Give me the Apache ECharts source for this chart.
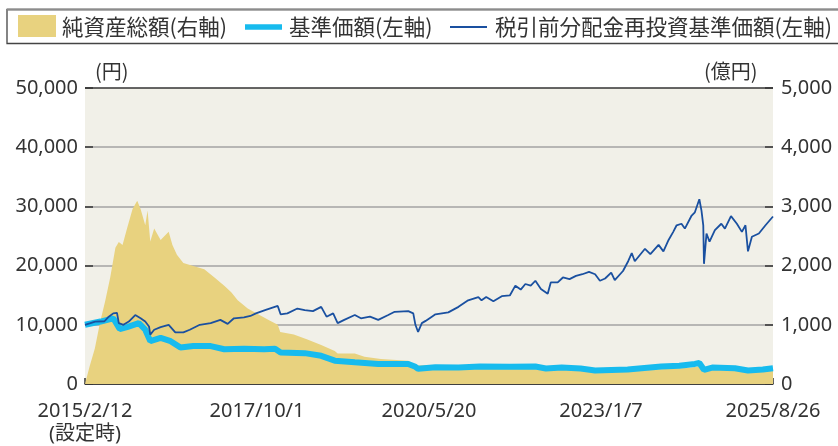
<!DOCTYPE html>
<html>
<head>
<meta charset="utf-8">
<script src="https://cdn.jsdelivr.net/npm/echarts@6/dist/echarts.min.js"></script>
<style>
  html, body { margin: 0; padding: 0; background: #fff; }
  #chart { width: 838px; height: 446px; }
</style>
</head>
<body>
<div id="chart"></div>
<script>
// 純資産総額（億円・右軸）
const assetDates = [
  "2015-02-12", "2015-03-10", "2015-04-08", "2015-05-08", "2015-06-05", "2015-07-03", "2015-08-01",
  "2015-08-20", "2015-09-10", "2015-10-05", "2015-11-05", "2015-12-01", "2015-12-20", "2016-01-15",
  "2016-01-28", "2016-02-12", "2016-03-05", "2016-04-10", "2016-05-25", "2016-06-15", "2016-07-10",
  "2016-08-15", "2016-10-10", "2016-12-10", "2017-02-05", "2017-04-01", "2017-05-10", "2017-06-15",
  "2017-08-10", "2017-10-05", "2017-12-05", "2018-01-25", "2018-02-08", "2018-04-25", "2018-07-10",
  "2018-09-25", "2018-12-10", "2018-12-26", "2019-04-01", "2019-05-25", "2019-08-25", "2020-01-25",
  "2020-03-05", "2020-06-25", "2020-11-10", "2021-06-20", "2022-02-05", "2022-07-25", "2022-12-05",
  "2023-06-20", "2023-12-01", "2024-05-20", "2024-07-10", "2024-08-05", "2024-10-05", "2025-02-25",
  "2025-04-08", "2025-06-20", "2025-08-26"
];
const assetValues = [
  0, 300, 600, 1050, 1400, 1800, 2300,
  2400, 2350, 2625, 2955, 3094, 2955, 2681,
  2929, 2405, 2625, 2433, 2570, 2350, 2185,
  2046, 1992, 1937, 1799, 1661, 1550, 1413,
  1276, 1182, 1083, 1000, 879, 835, 752,
  658, 559, 516, 516, 460, 421, 394,
  311, 320, 265, 260, 250, 245, 205,
  215, 250, 275, 300, 230, 250, 245,
  210, 230, 245
];

// 基準価額（円・左軸）
const priceDates = [
  "2015-02-12", "2015-05-10", "2015-07-20", "2015-07-28", "2015-08-25", "2015-10-05", "2015-12-10",
  "2016-01-15", "2016-02-12", "2016-04-10", "2016-06-05", "2016-07-30", "2016-10-10", "2017-01-15",
  "2017-04-01", "2017-07-20", "2017-11-10", "2018-01-10", "2018-02-10", "2018-06-25", "2018-09-25",
  "2018-12-10", "2019-04-01", "2019-08-10", "2020-01-25", "2020-03-05", "2020-03-20", "2020-06-25",
  "2020-11-01", "2021-03-01", "2021-08-15", "2022-01-05", "2022-03-05", "2022-06-01", "2022-09-15",
  "2022-12-05", "2023-06-05", "2023-12-10", "2024-03-20", "2024-06-15", "2024-07-10", "2024-08-05",
  "2024-09-20", "2025-01-25", "2025-04-08", "2025-06-30", "2025-08-26"
];
const priceValues = [
  10000, 10550, 11100, 11200, 9290, 9620, 10280,
  9170, 7240, 7800, 7240, 6150, 6410, 6410,
  5870, 5950, 5870, 5950, 5320, 5210, 4760,
  3940, 3670, 3390, 3390, 2900, 2560, 2840,
  2800, 2950, 2900, 2950, 2620, 2780, 2620,
  2290, 2450, 2950, 3100, 3390, 3550, 2400,
  2780, 2670, 2290, 2450, 2670
];

// 税引前分配金再投資基準価額（円・左軸）
const reinvestDates = [
  "2015-02-12", "2015-03-10", "2015-04-10", "2015-06-01", "2015-06-25", "2015-07-20", "2015-08-10",
  "2015-08-20", "2015-09-15", "2015-10-15", "2015-11-20", "2015-12-20", "2016-01-15", "2016-02-05",
  "2016-02-12", "2016-03-05", "2016-04-10", "2016-05-25", "2016-07-01", "2016-08-15", "2016-09-20",
  "2016-11-15", "2017-01-15", "2017-03-10", "2017-04-20", "2017-05-25", "2017-07-20", "2017-08-25",
  "2017-09-25", "2017-11-15", "2018-01-25", "2018-02-10", "2018-03-20", "2018-05-15", "2018-06-25",
  "2018-08-10", "2018-09-25", "2018-10-25", "2018-12-01", "2018-12-26", "2019-02-01", "2019-04-01",
  "2019-05-05", "2019-06-25", "2019-08-10", "2019-10-05", "2019-11-10", "2020-01-25", "2020-02-22",
  "2020-03-05", "2020-03-20", "2020-04-10", "2020-05-01", "2020-06-05", "2020-06-25", "2020-09-05",
  "2020-11-01", "2020-12-25", "2021-02-20", "2021-03-10", "2021-04-05", "2021-05-15", "2021-07-01",
  "2021-08-15", "2021-09-15", "2021-10-15", "2021-11-10", "2021-12-10", "2022-01-05", "2022-02-05",
  "2022-03-15", "2022-04-01", "2022-05-10", "2022-06-08", "2022-07-15", "2022-08-20", "2022-09-25",
  "2022-11-01", "2022-12-05", "2023-01-01", "2023-01-10", "2023-01-30", "2023-03-05", "2023-03-25",
  "2023-05-10", "2023-06-08", "2023-06-28", "2023-07-15", "2023-09-10", "2023-10-10", "2023-11-25",
  "2023-12-22", "2024-01-20", "2024-02-15", "2024-03-05", "2024-04-01", "2024-04-20", "2024-05-28",
  "2024-06-15", "2024-07-10", "2024-07-22", "2024-08-01", "2024-08-05", "2024-08-19", "2024-09-05",
  "2024-10-05", "2024-11-10", "2024-11-30", "2025-01-03", "2025-02-05", "2025-03-05", "2025-03-25",
  "2025-04-08", "2025-04-30", "2025-06-08", "2025-07-15", "2025-08-26"
];
const reinvestValues = [
  10000, 10250, 10550, 10600, 11370, 11930, 12000,
  10280, 10000, 10550, 11650, 11100, 10550, 9720,
  8350, 9170, 9620, 10000, 8730, 8730, 9170,
  10000, 10280, 10830, 10150, 11100, 11270, 11490,
  11930, 12480, 13190, 11770, 11930, 12750, 12480,
  12310, 13030, 11370, 11930, 10280, 10830, 11650,
  11100, 11370, 10830, 11650, 12200, 12310, 11930,
  10000, 8790, 10280, 10660, 11370, 11770, 12100,
  13030, 14130, 14680, 14130, 14680, 13970, 14840,
  14960, 16610, 15950, 16890, 16610, 17440, 16060,
  15240, 17160, 17160, 17990, 17720, 18260, 18540,
  18930, 18540, 17440, 17320, 17820, 18810, 17550,
  19090, 20740, 22120, 20740, 22840, 21950, 23500,
  22400, 24330, 25700, 26810, 27070, 26250, 28460,
  29010, 31210, 29290, 26810, 20300, 25420, 24050,
  25980, 27070, 26250, 28350, 27070, 25700, 26810,
  22400, 24880, 25420, 26810, 28300
];

// 軸の目盛
const startDate = "2015-02-12";
const endDate = "2025-08-26";
const leftTicks = [0, 10000, 20000, 30000, 40000, 50000];
const rightTicks = [0, 1000, 2000, 3000, 4000, 5000];

const DAY = 86400000;
const startMs = toMs(startDate);

function toMs(s) {
  const p = s.split("-").map(Number);
  return Date.UTC(p[0], p[1] - 1, p[2]);
}

// 日付 → 設定日からの経過日数
function dayOf(s) {
  return Math.round((toMs(s) - startMs) / DAY);
}

function pairs(dates, values) {
  return dates.map((d, i) => [dayOf(d), values[i]]);
}

function fmtDate(v) {
  const dt = new Date(startMs + v * DAY);
  return dt.getUTCFullYear() + "/" + (dt.getUTCMonth() + 1) + "/" + dt.getUTCDate();
}

const totalDays = dayOf(endDate);
const textColor = "#333";
const numFont = "'Noto Sans', 'Noto Sans CJK JP', sans-serif";
const jpFont = "'Noto Sans CJK JP', sans-serif";

let chart = echarts.init(document.getElementById("chart"), null, { renderer: "canvas" });
let option = {
  animation: false,
  backgroundColor: "#fff",
  grid: {
    left: 85,
    right: 65,
    top: 88,
    bottom: 56,
    show: true,
    backgroundColor: "#f1f0e8",
    borderWidth: 0,
  },
  xAxis: {
    type: "value",
    min: 0,
    max: totalDays,
    interval: totalDays / 4,
    splitLine: { show: false },
    axisLine: { lineStyle: { color: "#333", width: 1.5 } },
    axisTick: { inside: true, length: 6, lineStyle: { color: "#333", width: 1.5 } },
    axisLabel: {
      color: textColor,
      fontFamily: numFont,
      fontSize: 20,
      margin: 16,
      lineHeight: 23,
      formatter: (v) => (v === 0 ? fmtDate(v) + "\n(設定時)" : fmtDate(v)),
    },
  },
  yAxis: [
    {
      type: "value",
      min: leftTicks[0],
      max: leftTicks[leftTicks.length - 1],
      interval: leftTicks[1] - leftTicks[0],
      axisLine: { show: false },
      axisTick: { show: true, inside: true, length: 8, lineStyle: { color: "#333", width: 1.5 } },
      splitLine: {
        show: true,
        lineStyle: { color: ["#333", "#a3a3a3", "#a3a3a3", "#a3a3a3", "#a3a3a3", "#333"], width: 1.5 },
      },
      axisLabel: {
        color: textColor,
        fontFamily: numFont,
        fontSize: 20,
        margin: 7,
        formatter: (v) => v.toLocaleString("en-US"),
      },
    },
    {
      type: "value",
      min: rightTicks[0],
      max: rightTicks[rightTicks.length - 1],
      interval: rightTicks[1] - rightTicks[0],
      axisLine: { show: false },
      axisTick: { show: true, inside: true, length: 8, lineStyle: { color: "#333", width: 1.5 } },
      splitLine: { show: false },
      axisLabel: {
        color: textColor,
        fontFamily: numFont,
        fontSize: 20,
        margin: 8,
        formatter: (v) => v.toLocaleString("en-US"),
      },
    },
  ],
  series: [
    {
      name: "純資産総額(右軸)",
      type: "line",
      yAxisIndex: 1,
      data: pairs(assetDates, assetValues),
      symbol: "none",
      lineStyle: { width: 0 },
      areaStyle: { color: "#e8d27f", opacity: 1 },
      z: 1,
    },
    {
      name: "基準価額(左軸)",
      type: "line",
      data: pairs(priceDates, priceValues),
      symbol: "none",
      lineStyle: { width: 6, color: "#17bbee" },
      z: 2,
    },
    {
      name: "税引前分配金再投資基準価額(左軸)",
      type: "line",
      data: pairs(reinvestDates, reinvestValues),
      symbol: "none",
      lineStyle: { width: 1.8, color: "#1a50a0" },
      z: 3,
    },
  ],
  // 凡例と単位
  graphic: [
    { type: "rect", shape: { x: 7, y: 9.5, width: 840, height: 34 }, style: { fill: "#fff", stroke: "#444", lineWidth: 1.3 } },
    { type: "line", shape: { x1: 7, y1: 9.5, x2: 838, y2: 9.5 }, style: { stroke: "#8c8c8c", lineWidth: 2 } },
    { type: "rect", shape: { x: 18, y: 15, width: 38, height: 22 }, style: { fill: "#e8d27f" } },
    { type: "text", x: 62, y: 27, style: { text: "純資産総額(右軸)", fill: textColor, font: "21.5px " + jpFont, verticalAlign: "middle" } },
    { type: "line", shape: { x1: 245, y1: 27, x2: 282, y2: 27 }, style: { stroke: "#17bbee", lineWidth: 5.5 } },
    { type: "text", x: 289, y: 27, style: { text: "基準価額(左軸)", fill: textColor, font: "21.5px " + jpFont, verticalAlign: "middle" } },
    { type: "line", shape: { x1: 450, y1: 27, x2: 487, y2: 27 }, style: { stroke: "#1a50a0", lineWidth: 2 } },
    { type: "text", x: 495, y: 27, style: { text: "税引前分配金再投資基準価額(左軸)", fill: textColor, font: "21.5px " + jpFont, verticalAlign: "middle" } },
    { type: "text", x: 95, y: 71, style: { text: "(円)", fill: textColor, font: "20px " + jpFont, verticalAlign: "middle" } },
    { type: "text", x: 704, y: 71, style: { text: "(億円)", fill: textColor, font: "20px " + jpFont, verticalAlign: "middle" } },
  ],
};
chart.setOption(option);
</script>
</body>
</html>
